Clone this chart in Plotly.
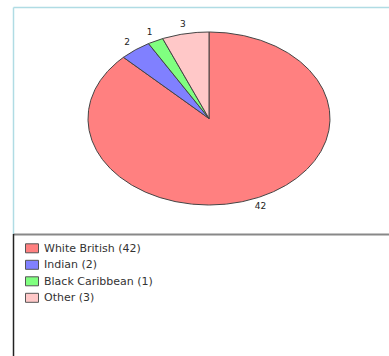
import numpy as np
import plotly.graph_objects as go

categories = ["White British", "Indian", "Black Caribbean", "Other"]
values = [42, 2, 1, 3]
colors = ["#FF8080", "#8080FF", "#80FF80", "#FFC8C8"]

W, H = 389, 356
cx, cy, rx, ry = 209.0, 118.5, 121.0, 86.5

fig = go.Figure()
total = sum(values)
start = 90.0
for cat, v, col in zip(categories, values, colors):
    sweep = v / total * 360.0
    ang = np.linspace(start, start - sweep, max(int(sweep * 2), 4))
    xs = np.concatenate([[0], np.cos(np.radians(ang)), [0]])
    ys = np.concatenate([[0], np.sin(np.radians(ang)), [0]])
    fig.add_trace(go.Scatter(
        x=xs, y=ys, mode="lines", fill="toself", fillcolor=col,
        line=dict(color="#444444", width=1),
        name=f"{cat} ({v})", hoverinfo="skip", showlegend=False))
    mid = np.radians(start - sweep / 2)
    fig.add_trace(go.Scatter(
        x=[1.11 * np.cos(mid)], y=[1.11 * np.sin(mid)], mode="text",
        text=[str(v)], textfont=dict(size=9, color="#222222", family="DejaVu Sans"),
        showlegend=False, hoverinfo="skip"))
    start -= sweep

fig.update_xaxes(range=[-cx / rx, (W - cx) / rx], visible=False, domain=[0, 1])
fig.update_yaxes(range=[-(H - cy) / ry, cy / ry], visible=False, domain=[0, 1])

def px(x):
    return x / W

def py(y):
    return 1 - y / H

shapes = [
    dict(type="line", xref="paper", yref="paper", x0=px(13.5), x1=1, y0=py(7.5), y1=py(7.5),
         line=dict(color="#B0DCE4", width=1.5)),
    dict(type="line", xref="paper", yref="paper", x0=px(13.5), x1=px(13.5), y0=py(7.5), y1=py(234),
         line=dict(color="#B0DCE4", width=1.5)),
    dict(type="line", xref="paper", yref="paper", x0=px(13.5), x1=1, y0=py(234.5), y1=py(234.5),
         line=dict(color="#888888", width=2)),
    dict(type="line", xref="paper", yref="paper", x0=px(13.5), x1=px(13.5), y0=py(234), y1=0,
         line=dict(color="#222222", width=1.5)),
]
annotations = []
row0, row_gap = 248.3, 16.5
for i, (cat, v, col) in enumerate(zip(categories, values, colors)):
    yc = row0 + i * row_gap
    shapes.append(dict(type="rect", xref="paper", yref="paper",
                       x0=px(25.5), x1=px(38.5), y0=py(yc - 4.5), y1=py(yc + 4.5),
                       fillcolor=col, line=dict(color="#555555", width=1)))
    annotations.append(dict(xref="paper", yref="paper", x=px(42), y=py(yc),
                            xanchor="left", yanchor="middle", showarrow=False,
                            text=f"{cat} ({v})",
                            font=dict(size=11, color="#333333", family="DejaVu Sans")))

fig.update_layout(
    width=W, height=H, margin=dict(l=0, r=0, t=0, b=0),
    paper_bgcolor="white", plot_bgcolor="white",
    shapes=shapes, annotations=annotations, showlegend=False,
)

fig.write_html("out.html")
